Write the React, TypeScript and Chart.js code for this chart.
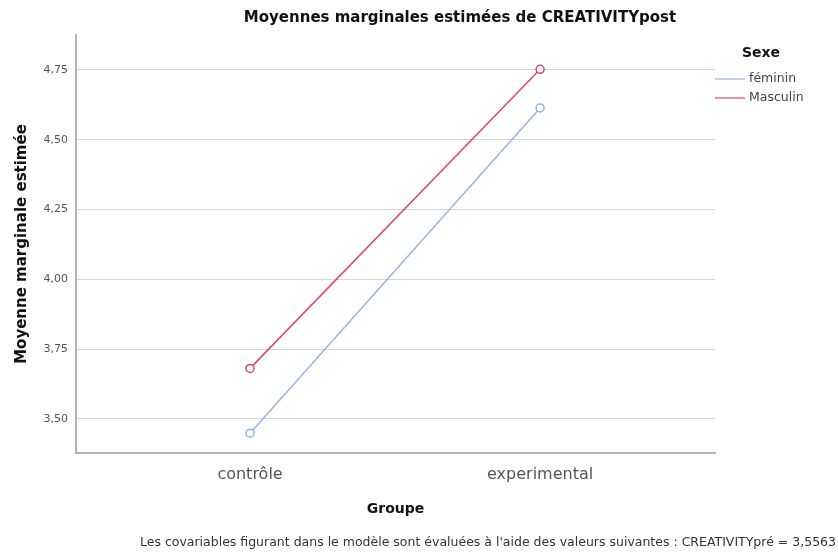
import React, { useEffect, useRef } from "react";
import { Chart, registerables } from "chart.js";

Chart.register(...registerables);

const categories = ["contrôle", "experimental"];
const seriesNames = ["féminin", "Masculin"];
const femininValues = [3.449, 4.614];
const masculinValues = [3.681, 4.752];
const yTickValues = [3.5, 3.75, 4.0, 4.25, 4.5, 4.75];
const chartTitle = "Moyennes marginales estimées de CREATIVITYpost";
const yAxisTitle = "Moyenne marginale estimée";
const xAxisTitle = "Groupe";
const legendTitle = "Sexe";
const footnote =
  "Les covariables figurant dans le modèle sont évaluées à l'aide des valeurs suivantes : CREATIVITYpré = 3,5563";

const FONT = '"DejaVu Sans", "Liberation Sans", Arial, sans-serif';
const seriesColors = ["rgb(150,180,230)", "rgb(214,72,104)"];

const textPlugin = {
  id: "extraTexts",
  afterDraw(chart: any) {
    const ctx = chart.ctx as CanvasRenderingContext2D;
    const area = chart.chartArea;
    ctx.save();
    // Title
    ctx.fillStyle = "#111";
    ctx.font = `bold 15px ${FONT}`;
    ctx.textAlign = "center";
    ctx.textBaseline = "middle";
    ctx.fillText(chartTitle, 460, 18);
    // Legend
    ctx.textAlign = "left";
    ctx.font = `bold 14px ${FONT}`;
    ctx.fillText(legendTitle, 742, 53);
    ctx.font = `12.5px ${FONT}`;
    chart.data.datasets.forEach((ds: any, i: number) => {
      const y = 79 + i * 19;
      ctx.strokeStyle = ds.borderColor;
      ctx.lineWidth = 1.2;
      ctx.beginPath();
      ctx.moveTo(area.right, y);
      ctx.lineTo(area.right + 30, y);
      ctx.stroke();
      ctx.fillStyle = "#444";
      ctx.fillText(ds.label, area.right + 34, y);
    });
    // Footnote
    ctx.font = `12.5px ${FONT}`;
    ctx.fillStyle = "#333";
    ctx.textAlign = "right";
    ctx.fillText(footnote, 836, 543);
    ctx.restore();
  },
};

export default function App() {
  const ref = useRef<HTMLCanvasElement | null>(null);

  useEffect(() => {
    if (!ref.current) return;
    const mk = (vals: number[]) => categories.map((_, i) => ({ x: i, y: vals[i] }));
    const chart = new Chart(ref.current, {
      type: "line",
      data: {
        datasets: [
          {
            label: seriesNames[0],
            data: mk(femininValues),
            borderColor: seriesColors[0],
            backgroundColor: "#fff",
            pointBackgroundColor: "#fff",
            pointBorderColor: seriesColors[0],
            pointRadius: 4,
            pointBorderWidth: 1.5,
            borderWidth: 1.5,
          },
          {
            label: seriesNames[1],
            data: mk(masculinValues),
            borderColor: seriesColors[1],
            backgroundColor: "#fff",
            pointBackgroundColor: "#fff",
            pointBorderColor: seriesColors[1],
            pointRadius: 4,
            pointBorderWidth: 1.5,
            borderWidth: 1.5,
          },
        ],
      },
      options: {
        responsive: false,
        animation: false,
        devicePixelRatio: 1,
        layout: { padding: { top: 35, right: 123, bottom: 0, left: 0 } },
        plugins: {
          legend: { display: false },
          title: { display: false },
          tooltip: { enabled: false },
        },
        scales: {
          x: {
            type: "linear",
            min: -0.6,
            max: 1.603,
            afterBuildTicks: (s: any) => {
              s.ticks = categories.map((_, i) => ({ value: i }));
            },
            afterFit: (s: any) => {
              s.height = 100;
            },
            grid: { display: false },
            border: { display: true, color: "#b4b4b4", width: 2 },
            ticks: {
              callback: (v: any) => categories[v] ?? "",
              font: { family: FONT, size: 16 },
              color: "#555",
              padding: 4,
              maxRotation: 0,
            },
            title: {
              display: true,
              text: xAxisTitle,
              font: { family: FONT, size: 14, weight: "bold" },
              color: "#111",
              padding: { top: 0, bottom: 35 },
            },
          },
          y: {
            type: "linear",
            min: 3.378,
            max: 4.875,
            afterBuildTicks: (s: any) => {
              s.ticks = yTickValues.map((v) => ({ value: v }));
            },
            afterFit: (s: any) => {
              s.width = 76;
            },
            grid: {
              color: "#d6d6d6",
              lineWidth: 1,
              tickLength: 5,
              tickColor: "rgba(0,0,0,0)",
            },
            border: { display: true, color: "#b4b4b4", width: 2 },
            ticks: {
              callback: (v: any) => Number(v).toFixed(2).replace(".", ","),
              font: { family: FONT, size: 11 },
              color: "#555",
              padding: 3,
            },
            title: {
              display: true,
              text: yAxisTitle,
              font: { family: FONT, size: 15, weight: "bold" },
              color: "#111",
              padding: { top: 13, bottom: 0 },
            },
          },
        },
      },
      plugins: [textPlugin],
    });
    return () => chart.destroy();
  }, []);

  return (
    <div style={{ position: "absolute", left: 0, top: 0, width: 838, height: 553, background: "#fff" }}>
      <canvas ref={ref} width={838} height={553} />
    </div>
  );
}
